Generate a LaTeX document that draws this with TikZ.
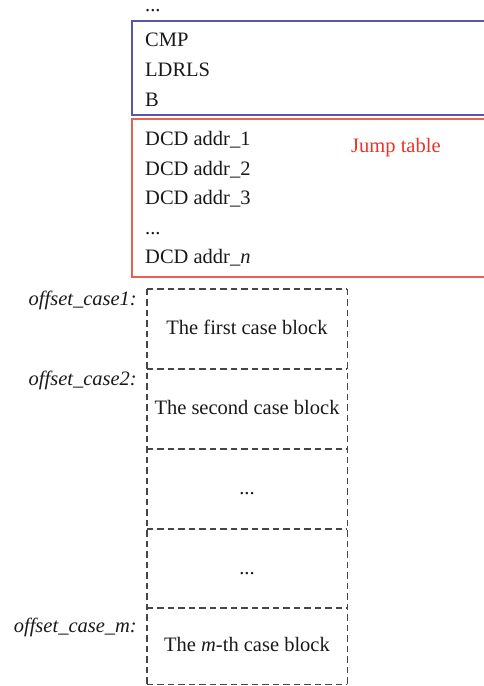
\documentclass[tikz,border=0pt]{standalone}
\usepackage{fontspec}
\setmainfont{Liberation Serif}
\definecolor{codeblue}{RGB}{88,88,170}
\definecolor{tabred}{RGB}{232,96,84}
\definecolor{jtred}{RGB}{230,52,40}
\definecolor{dashgray}{RGB}{70,70,70}
\begin{document}
\begin{tikzpicture}[x=1pt,y=-1pt,
  fnt/.style={font=\fontsize{20.5}{25}\selectfont},
  txt/.style={fnt,anchor=base west,inner sep=0pt,text=black!90},
  lbl/.style={anchor=base east,inner sep=0pt,font=\fontsize{20.5}{25}\selectfont\itshape,text=black!90},
  blk/.style={fnt,minimum width=200pt,minimum height=80pt,inner sep=0pt,text height=14pt,text depth=4pt,text=black!90},
  dline/.style={draw=dashgray,line width=1.4pt,dash pattern=on 6.5pt off 4pt},
  frame/.style={line width=1.5pt,minimum width=380pt,anchor=north west,inner sep=0pt}]
\useasboundingbox (0,0) rectangle (484,686);
\clip (0,0) rectangle (484,686);
% code box and jump table
\node[frame,draw=codeblue,minimum height=94pt] (code) at (131,20) {};
\node[frame,draw=tabred,minimum height=158pt] (jt) at (131,118) {};
\node[txt,text height=4pt] (dots0) at (145,11) {...};
\node[txt] (cmp) at (145,46) {CMP};
\node[txt] (ldr) at (145,76) {LDRLS};
\node[txt] (b) at (145,106) {B};
\node[txt] (d1) at (145,145) {DCD addr\_1};
\node[txt] (d2) at (145,175) {DCD addr\_2};
\node[txt] (d3) at (145,204) {DCD addr\_3};
\node[txt] (dd) at (145,234) {...};
\node[txt] (dn) at (145,263) {DCD addr\_\textit{n}};
\node[txt,text=jtred] (jtl) at (351,152) {Jump table};
% case blocks
\node[blk] (c1) at (247,329) {The first case block};
\node[blk] (c2) at (247,409) {The second case block};
\node[blk] (c3) at (247,489) {...};
\node[blk] (c4) at (247,569) {...};
\node[blk,minimum height=76pt] (c5) at (247,646) {The \textit{m}-th case block};
\draw[dline] (c1.north west) -- (c1.north east);
\draw[dline] (c2.north west) -- (c2.north east);
\draw[dline] (c3.north west) -- (c3.north east);
\draw[dline] (c4.north west) -- (c4.north east);
\draw[dline] (c5.north west) -- (c5.north east);
\draw[dline] (c5.south west) -- (c5.south east);
\draw[dline] (c1.north west) -- (c5.south west);
\draw[dline] (c1.north east) -- (c5.south east);
% labels
\node[lbl] (o1) at (137,305) {offset\_case1:};
\node[lbl] (o2) at (137,385) {offset\_case2:};
\node[lbl] (om) at (137,632) {offset\_case\_m:};
\end{tikzpicture}
\end{document}
